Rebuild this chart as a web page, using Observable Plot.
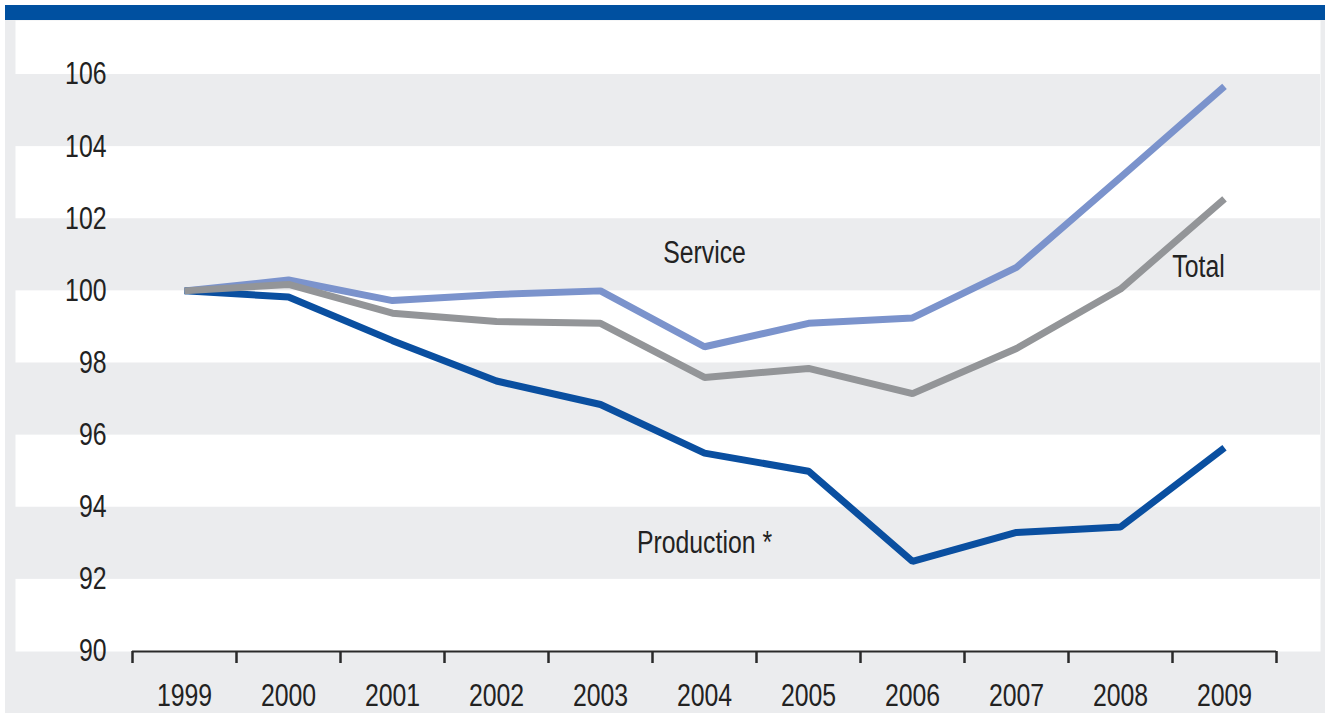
<!DOCTYPE html>
<html>
<head>
<meta charset="utf-8">
<script src="https://cdn.jsdelivr.net/npm/d3@7"></script>
<script src="https://cdn.jsdelivr.net/npm/@observablehq/plot@0.6"></script>
<style>
  html, body { margin: 0; padding: 0; background: #ffffff; }
  #wrap { position: absolute; left: 5px; top: 5px; width: 1320px; }
  #bar { height: 15px; background: #0050a0; }
  #chart svg { display: block; background: #ebecee; }
</style>
</head>
<body>
<div id="wrap">
  <div id="bar"></div>
  <div id="chart"></div>
</div>
<script>
const years = [1999, 2000, 2001, 2002, 2003, 2004, 2005, 2006, 2007, 2008, 2009];
const service    = [100, 100.3, 99.73, 99.9, 100.0, 98.45, 99.1, 99.25, 100.65, 103.15, 105.67];
const total      = [100, 100.18, 99.38, 99.15, 99.1, 97.6, 97.85, 97.15, 98.4, 100.05, 102.55];
const production = [100, 99.83, 98.62, 97.5, 96.85, 95.5, 95.0, 92.5, 93.3, 93.45, 95.65];
const yTicks = [90, 92, 94, 96, 98, 100, 102, 104, 106];

const seriesNames  = ["Service", "Production *", "Total"];
const seriesColors = ["#7b93cc", "#0a4fa0", "#939598"];
const seriesValues = [service, production, total];

// label annotations (year position, value position)
const labelNames = ["Service", "Total", "Production *"];
const labelYears = [2004.0, 2008.75, 2004.0];
const labelVals  = [101.05, 100.65, 93.0];

const rows = [];
seriesNames.forEach((s, k) => years.forEach((yr, i) => rows.push({series: s, year: yr, value: seriesValues[k][i]})));

const bands = [];
for (let i = 1; i < yTicks.length - 1; i += 2) bands.push({y1: yTicks[i], y2: yTicks[i + 1]});

const boundaries = years.map(y => y - 0.5).concat([years[years.length - 1] + 0.5]);
const labels = labelNames.map((n, i) => ({name: n, year: labelYears[i], value: labelVals[i]}));

const font = "'Liberation Sans', Arial, sans-serif";

const chart = Plot.plot({
  width: 1320,
  height: 693,
  marginLeft: 10,
  marginRight: 5,
  marginTop: 0,
  marginBottom: 62,
  style: {fontFamily: font, fontSize: "31px", color: "#222", background: "#ebecee", overflow: "visible"},
  x: {domain: [boundaries[0], boundaries[boundaries.length - 1]], range: [127, 1271], label: null},
  y: {domain: [90, 106], range: [631, 54], label: null},
  color: {domain: seriesNames, range: seriesColors},
  marks: [
    Plot.frame({fill: "white", stroke: null}),
    Plot.rect(bands, {y1: "y1", y2: "y2", fill: "#ebecee"}),
    Plot.ruleY([90], {x1: boundaries[0], x2: boundaries[boundaries.length - 1], stroke: "#2a2a2a", strokeWidth: 2}),
    Plot.axisX({ticks: boundaries, tickSize: 12, tickFormat: () => "", label: null, stroke: "#2a2a2a", strokeWidth: 2.5, strokeOpacity: 1}),
    Plot.axisX({ticks: years, tickSize: 0, tickPadding: 32, label: null, tickFormat: d => String(d), fill: "#222", fontSize: 31}),
    Plot.axisY({ticks: yTicks, tickSize: 0, tickPadding: 0, label: null, textAnchor: "end", dx: 91, tickFormat: d => String(d), fill: "#222", fontSize: 31}),
    Plot.line(rows, {x: "year", y: "value", z: "series", stroke: "series", strokeWidth: 7, strokeLinejoin: "miter", strokeLinecap: "butt"}),
    Plot.text(labels, {x: "year", y: "value", text: "name", fill: "#222", fontSize: 31, textAnchor: "middle"})
  ]
});
document.getElementById("chart").appendChild(chart);

// condensed look: squeeze glyphs horizontally like a narrow typeface
chart.querySelectorAll("text").forEach(t => {
  const len = t.getComputedTextLength();
  if (len > 0) {
    t.setAttribute("textLength", (len * 0.8).toFixed(1));
    t.setAttribute("lengthAdjust", "spacingAndGlyphs");
  }
});
</script>
</body>
</html>
